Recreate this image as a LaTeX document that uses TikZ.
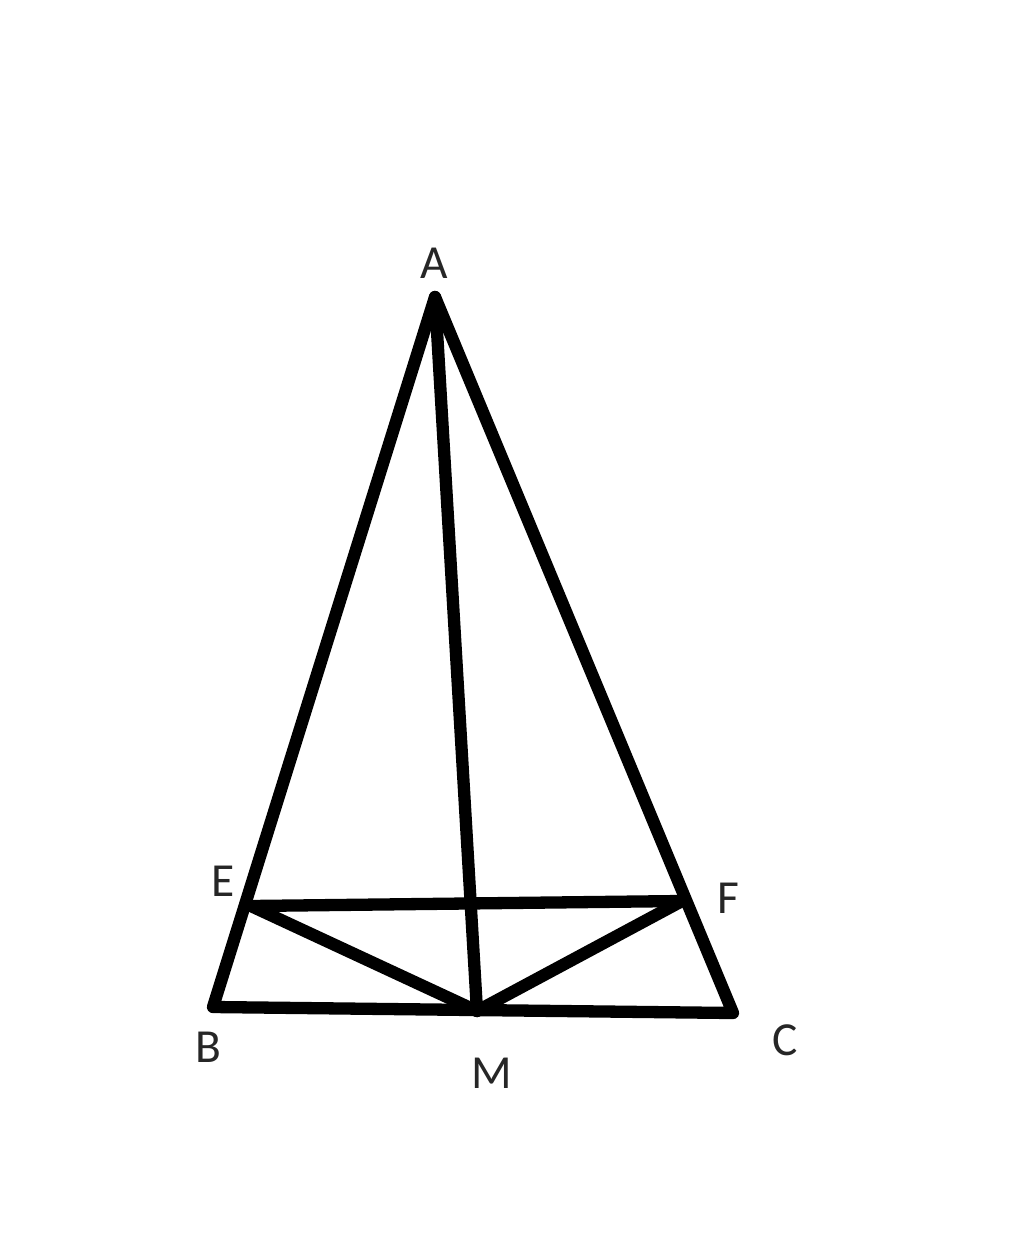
\documentclass[tikz,border=0pt]{standalone}
\usepackage{fontspec}
\setmainfont{Carlito}
\begin{document}
\begin{tikzpicture}[x=0.02cm,y=-0.02cm,
  seg/.style={line width=7pt,line cap=round,line join=round,black},
  lab/.style={font=\fontsize{27}{30}\selectfont,text=black!85,inner sep=0pt}]
\useasboundingbox (0,0) rectangle (1024,1260);
\coordinate (A) at (435,297);
\coordinate (B) at (213,1007);
\coordinate (C) at (733,1013);
\coordinate (M) at (477,1011);
\coordinate (E) at (251,906);
\coordinate (F) at (682,901);
\draw[seg] (A) -- (B) -- (C) -- cycle;
\draw[seg] (A) -- (M);
\draw[seg] (E) -- (F);
\draw[seg] (E) -- (M) -- (F);
\node[lab] (lA) at (434,263) {A};
\node[lab] (lB) at (208,1047) {B};
\node[lab] (lC) at (785,1040) {C};
\node[lab] (lM) at (492,1073) {M};
\node[lab] (lE) at (223,881) {E};
\node[lab] (lF) at (728,898) {F};
\end{tikzpicture}
\end{document}
